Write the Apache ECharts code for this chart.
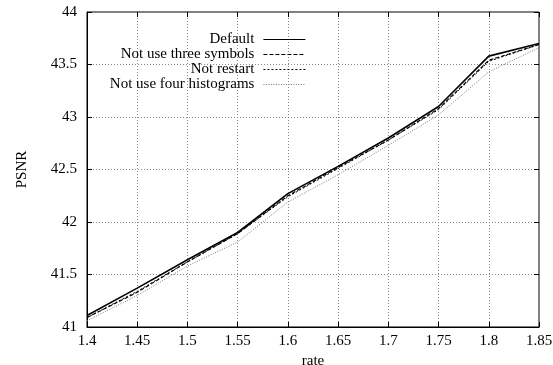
<!DOCTYPE html>
<html>
<head>
<meta charset="utf-8">
<script src="https://cdn.jsdelivr.net/npm/echarts@6/dist/echarts.min.js"></script>
<style>
  html, body { margin: 0; padding: 0; background: #fff; }
  #chart { width: 553px; height: 365px; }
</style>
</head>
<body>
<div id="chart"></div>
<script>
// Rate values (x) and PSNR per configuration
const rates = [1.4, 1.45, 1.5, 1.55, 1.6, 1.65, 1.7, 1.75, 1.8, 1.85];
const psnrDefault = [41.11, 41.37, 41.64, 41.90, 42.27, 42.53, 42.80, 43.10, 43.58, 43.70];
const psnrNoThreeSymbols = [41.09, 41.33, 41.62, 41.89, 42.25, 42.52, 42.78, 43.08, 43.54, 43.69];
const psnrNoRestart = [41.09, 41.34, 41.62, 41.89, 42.24, 42.51, 42.78, 43.07, 43.53, 43.69];
const psnrNoFourHistograms = [41.06, 41.30, 41.58, 41.81, 42.19, 42.45, 42.73, 43.02, 43.43, 43.66];
const seriesNames = ['Default', 'Not use three symbols', 'Not restart', 'Not use four histograms'];

const pairs = ys => rates.map((x, i) => [x, ys[i]]);
const FONT = '"Liberation Serif", "DejaVu Serif", serif';
const FS = 15;

const chart = echarts.init(document.getElementById('chart'));

const gridLine = { show: true, lineStyle: { color: '#888', type: [1, 2], width: 1 } };
const innerTick = { show: true, inside: true, length: 5, lineStyle: { color: '#000' } };

function mkSeries(name, ys, color, width, type) {
  return {
    name, type: 'line', data: pairs(ys), symbol: 'none',
    lineStyle: { color, width, type }, itemStyle: { color },
    animation: false, z: 3
  };
}

chart.setOption({
  animation: false,
  grid: {
    left: 87, right: 14, top: 12, bottom: 38,
    containLabel: false, outerBoundsMode: 'none',
    show: true, borderColor: '#000', borderWidth: 1
  },
  legend: {
    show: true, orient: 'vertical', align: 'right',
    right: 242, top: 27, itemGap: 0, itemWidth: 42, itemHeight: 15,
    itemStyle: { opacity: 0 },
    lineStyle: { width: 1.2 },
    textStyle: { fontFamily: FONT, fontSize: FS, color: '#000', padding: [0, 4, 0, 0] },
    data: seriesNames
  },
  xAxis: [{
    type: 'value', min: 1.4, max: 1.85, interval: 0.05,
    name: 'rate', nameLocation: 'middle', nameGap: 23,
    nameTextStyle: { fontFamily: FONT, fontSize: FS, color: '#000' },
    axisLine: { show: true, lineStyle: { color: '#000' } },
    axisTick: innerTick,
    axisLabel: { fontFamily: FONT, fontSize: FS, color: '#000', margin: 7,
      formatter: v => String(Math.round(v * 100) / 100) },
    splitLine: gridLine
  }, {
    type: 'value', position: 'top', min: 1.4, max: 1.85, interval: 0.05,
    axisLine: { show: false }, axisTick: innerTick, axisLabel: { show: false }, splitLine: { show: false }
  }],
  yAxis: [{
    type: 'value', min: 41, max: 44, interval: 0.5,
    name: 'PSNR', nameLocation: 'middle', nameGap: 57, nameRotate: 90,
    nameTextStyle: { fontFamily: FONT, fontSize: FS, color: '#000' },
    axisLine: { show: true, lineStyle: { color: '#000' } },
    axisTick: innerTick,
    axisLabel: { fontFamily: FONT, fontSize: FS, color: '#000', margin: 10 },
    splitLine: gridLine
  }, {
    type: 'value', position: 'right', min: 41, max: 44, interval: 0.5,
    axisLine: { show: false }, axisTick: innerTick, axisLabel: { show: false }, splitLine: { show: false }
  }],
  series: [
    mkSeries(seriesNames[0], psnrDefault, '#000', 1.6, 'solid'),
    mkSeries(seriesNames[1], psnrNoThreeSymbols, '#000', 1.1, [4, 2]),
    mkSeries(seriesNames[2], psnrNoRestart, '#000', 1, [2, 2]),
    mkSeries(seriesNames[3], psnrNoFourHistograms, '#777', 1, [1, 1.5])
  ]
});
</script>
</body>
</html>
